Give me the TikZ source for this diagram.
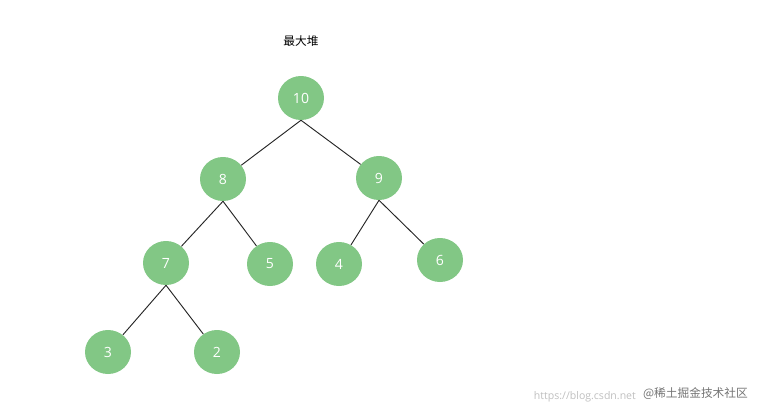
\documentclass[tikz,border=0pt]{standalone}
\usepackage{fontspec}
\setmainfont{Open Sans}
\newfontfamily\cjk{Noto Sans CJK SC}
\definecolor{heapGreen}{RGB}{130, 199, 133}
\tikzset{
    heapnode/.style={ellipse, fill=heapGreen, text=white, minimum width=46\unit, minimum height=44\unit, inner sep=0pt, font=\large},
    edge/.style={draw=black!85, thick}
}
\usetikzlibrary{shapes.geometric}
\def\unit{*0.03cm}
\begin{document}
\begin{tikzpicture}[x=0.03cm, y=-0.03cm]
    % Frame of the picture
    \useasboundingbox (0,0) rectangle (762,416);

    % Title
    \node (title) at (301,41) {\cjk 最大堆};

    % Nodes of the heap
    \node[heapnode] (n10) at (301,98) {10};
    \node[heapnode] (n8) at (223,179) {8};
    \node[heapnode] (n9) at (379,178) {9};
    \node[heapnode] (n7) at (166,263) {7};
    \node[heapnode] (n5) at (270,264) {5};
    \node[heapnode] (n4) at (339,264) {4};
    \node[heapnode] (n6) at (440,260) {6};
    \node[heapnode] (n3) at (108,352) {3};
    \node[heapnode] (n2) at (217,352) {2};

    % Connections
    \draw[edge] (n10.south) -- (n8);
    \draw[edge] (n10.south) -- (n9);
    \draw[edge] (n8.south) -- (n7);
    \draw[edge] (n8.south) -- (n5);
    \draw[edge] (n9.south) -- (n4);
    \draw[edge] (n9.south) -- (n6);
    \draw[edge] (n7.south) -- (n3);
    \draw[edge] (n7.south) -- (n2);

    % Watermark
    \node[text=black!25, font=\small, anchor=east] (url) at (640,397) {https://blog.csdn.net};
    \node[text=black!55, anchor=east] (mark) at (752,394) {\cjk @稀土掘金技术社区};
\end{tikzpicture}
\end{document}
